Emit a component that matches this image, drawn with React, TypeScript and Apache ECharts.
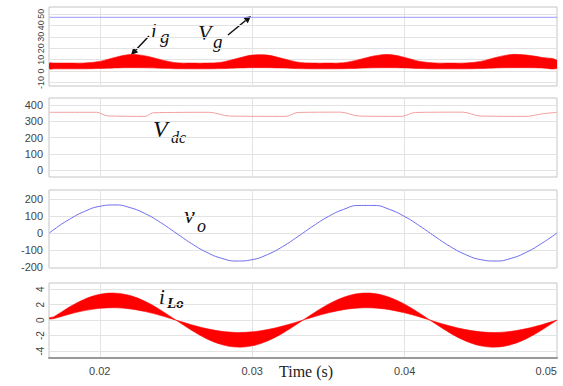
import { useEffect, useRef } from "react";
import * as echarts from "echarts";

// shared time base (s)
const time = [
  0.0167, 0.017, 0.018, 0.019, 0.02, 0.021, 0.022, 0.023, 0.024, 0.025, 0.026, 0.027,
  0.028, 0.029, 0.03, 0.031, 0.032, 0.033, 0.034, 0.035, 0.036, 0.037, 0.038, 0.039,
  0.04, 0.041, 0.042, 0.043, 0.044, 0.045, 0.046, 0.047, 0.048, 0.049, 0.05,
];

// grid current i_g band (upper / lower envelope, A)
const igUpper = [
  7, 7, 7, 7.1, 8.5, 12, 14.5, 13.3, 10, 7.3, 7, 7, 7.8, 11, 14, 14, 11, 7.8, 7, 7, 7.3,
  10, 13.3, 14.5, 12, 8.5, 7.1, 7, 7.1, 8.5, 12, 14.5, 14, 12, 9.5,
];
const igLower = [
  2, 2, 2, 2, 2.3, 2.8, 3, 2.9, 2.5, 2.1, 2, 2, 2.2, 2.7, 3, 3, 2.7, 2.2, 2, 2, 2.1, 2.5,
  2.9, 3, 2.8, 2.3, 2, 2, 2, 2.3, 2.8, 3, 3, 2.8, 2.4,
];
const vgLevel = 47;

// DC-link voltage (breakpoints)
const vdcTime = [
  0.0167, 0.0198, 0.0205, 0.023, 0.0235, 0.0272, 0.0285, 0.0322, 0.033, 0.0358, 0.037,
  0.0398, 0.0407, 0.0438, 0.045, 0.048, 0.049, 0.05,
];
const vdcValues = [355, 355, 333, 330, 352, 355, 332, 330, 354, 356, 332, 330, 354, 356, 332, 330, 345, 355];

// output voltage v_o
const voValues = [
  0, 21, 80, 127, 157, 165, 149, 113, 61, 0, -61, -113, -149, -165, -157, -127, -80, -21,
  41, 97, 139, 162, 162, 139, 97, 41, -21, -80, -127, -157, -165, -149, -113, -61, 0,
];

// inductor current i_Lo band (outer / inner envelope)
const iLoOuter = [
  0.3, 0.44, 1.69, 2.7, 3.33, 3.49, 3.17, 2.4, 1.29, 0, -1.29, -2.4, -3.17, -3.49, -3.33,
  -2.7, -1.69, -0.44, 0.87, 2.06, 2.95, 3.44, 3.44, 2.95, 2.06, 0.87, -0.44, -1.69, -2.7,
  -3.33, -3.49, -3.17, -2.4, -1.29, 0,
];
const iLoInner = [
  0.15, 0.2, 0.77, 1.23, 1.52, 1.6, 1.45, 1.1, 0.59, 0, -0.59, -1.1, -1.45, -1.6, -1.52,
  -1.23, -0.77, -0.2, 0.4, 0.94, 1.35, 1.57, 1.57, 1.35, 0.94, 0.4, -0.2, -0.77, -1.23,
  -1.52, -1.6, -1.45, -1.1, -0.59, 0,
];

const xTicks = [0.02, 0.03, 0.04, 0.05];
const igTicks = [-10, 0, 10, 20, 30, 40, 50];
const vdcTicks = [0, 100, 200, 300, 400];
const voTicks = [-200, -100, 0, 100, 200];
const iLoTicks = [-4, -2, 0, 2, 4];

const RED = "#ff0000";
const GRID_LINE = "#e3e3e3";
const LABEL_FONT = "'Liberation Sans Narrow', 'Liberation Sans', sans-serif";
const SERIF = "'Liberation Serif', serif";

function pairs(xs: number[], ys: number[]) {
  return xs.map((x, i) => [x, ys[i]]);
}

// filled band between two envelopes, drawn through the axis scales
function bandSeries(axisIndex: number, a: number[], b: number[]) {
  return {
    type: "custom",
    coordinateSystem: "cartesian2d",
    xAxisIndex: axisIndex,
    yAxisIndex: axisIndex,
    data: time.map((t, i) => [t, a[i], b[i]]),
    encode: { x: 0, y: [1, 2] },
    clip: true,
    silent: true,
    renderItem: (params: any, api: any) => {
      if (params.dataIndex !== 0) return null;
      const top = time.map((t, i) => api.coord([t, a[i]]));
      const bot = time.map((t, i) => api.coord([t, b[i]])).reverse();
      return {
        type: "polygon",
        shape: { points: top.concat(bot), smooth: 0.35 },
        style: { fill: RED, stroke: RED, lineWidth: 0.6 },
      };
    },
  };
}

export default function App() {
  const ref = useRef<HTMLDivElement>(null);

  useEffect(() => {
    if (!ref.current) return;
    const chart = echarts.init(ref.current, undefined, { renderer: "svg" });

    const gridBoxes = [
      { left: 49, top: 7, width: 508, height: 79 },
      { left: 49, top: 98, width: 508, height: 79 },
      { left: 49, top: 190, width: 508, height: 78 },
      { left: 49, top: 283, width: 508, height: 75 },
    ];
    const yRanges = [
      { min: -13, max: 56, ticks: igTicks, rotate: 90, size: 9 },
      { min: -43, max: 443, ticks: vdcTicks, rotate: 0, size: 11 },
      { min: -206, max: 253, ticks: voTicks, rotate: 0, size: 11 },
      { min: -4.9, max: 4.8, ticks: iLoTicks, rotate: 90, size: 10 },
    ];

    const option: any = {
      animation: false,
      backgroundColor: "#ffffff",
      grid: gridBoxes.map((g) => ({
        ...g,
        show: true,
        borderColor: "#c4c4c4",
        borderWidth: 1,
        backgroundColor: "#ffffff",
      })),
      xAxis: gridBoxes.map((_, i) => ({
        type: "value",
        gridIndex: i,
        min: 0.01667,
        max: 0.05,
        axisLine: { show: i === 3, onZero: false, lineStyle: { color: "#9a9a9a", width: 2 } },
        axisTick: { show: false, customValues: xTicks },
        axisLabel: {
          show: i === 3,
          customValues: xTicks,
          formatter: (v: number) => v.toFixed(2),
          fontSize: 11,
          color: "#444",
          fontFamily: LABEL_FONT,
          margin: 7,
          alignMaxLabel: "right",
        },
        splitLine: { show: true, lineStyle: { color: GRID_LINE, width: 1 } },
      })),
      yAxis: yRanges.map((r, i) => ({
        type: "value",
        gridIndex: i,
        min: r.min,
        max: r.max,
        axisLine: { show: false, onZero: false },
        axisTick: { show: false, customValues: r.ticks },
        axisLabel: {
          customValues: r.ticks,
          rotate: r.rotate,
          fontSize: r.size,
          color: "#444",
          fontFamily: LABEL_FONT,
          margin: r.rotate ? 4 : 6,
        },
        splitLine: { show: true, lineStyle: { color: GRID_LINE, width: 1 } },
      })),
      series: [
        bandSeries(0, igUpper, igLower),
        // V_g
        {
          type: "line",
          xAxisIndex: 0,
          yAxisIndex: 0,
          data: [
            [time[0], vgLevel],
            [time[time.length - 1], vgLevel],
          ],
          symbol: "none",
          lineStyle: { color: "#9c9cf4", width: 1 },
          silent: true,
        },
        // V_dc
        {
          type: "line",
          xAxisIndex: 1,
          yAxisIndex: 1,
          data: pairs(vdcTime, vdcValues),
          symbol: "none",
          smooth: 0.3,
          lineStyle: { color: "#f2a0a0", width: 1 },
          silent: true,
        },
        // v_o
        {
          type: "line",
          xAxisIndex: 2,
          yAxisIndex: 2,
          data: pairs(time, voValues),
          symbol: "none",
          smooth: true,
          lineStyle: { color: "#6b6bef", width: 1 },
          silent: true,
        },
        bandSeries(3, iLoOuter, iLoInner),
      ],
      graphic: [
        // i_g label + arrow
        { type: "text", x: 151, y: 31, style: { text: "i", font: `italic 20px ${SERIF}`, fill: "#111", textVerticalAlign: "middle" } },
        { type: "text", x: 160, y: 36, style: { text: "g", font: `italic 19px ${SERIF}`, fill: "#111", textVerticalAlign: "middle" } },
        { type: "line", shape: { x1: 149, y1: 36, x2: 135.8, y2: 49.9 }, style: { stroke: "#111", lineWidth: 1.5 } },
        { type: "polygon", shape: { points: [[131, 55], [138.3, 52.3], [133.2, 47.5]] }, style: { fill: "#111" } },
        // V_g label + arrow
        { type: "text", x: 198, y: 32.5, style: { text: "V", font: `italic 22px ${SERIF}`, fill: "#111", textVerticalAlign: "middle" } },
        { type: "text", x: 213, y: 41, style: { text: "g", font: `italic 19px ${SERIF}`, fill: "#111", textVerticalAlign: "middle" } },
        { type: "line", shape: { x1: 228, y1: 35, x2: 245.6, y2: 20.5 }, style: { stroke: "#111", lineWidth: 1.5 } },
        { type: "polygon", shape: { points: [[251, 16], [247.8, 23.2], [243.4, 17.8]] }, style: { fill: "#111" } },
        // V_dc
        { type: "text", x: 153, y: 129, style: { text: "V", font: `italic 24px ${SERIF}`, fill: "#111", textVerticalAlign: "middle" } },
        { type: "text", x: 171, y: 137.5, style: { text: "dc", font: `italic 16px ${SERIF}`, fill: "#111", textVerticalAlign: "middle" } },
        // v_o
        { type: "text", x: 184, y: 215, style: { text: "v", font: `italic 24px ${SERIF}`, fill: "#111", textVerticalAlign: "middle" } },
        { type: "text", x: 197, y: 226, style: { text: "o", font: `italic 18px ${SERIF}`, fill: "#111", textVerticalAlign: "middle" } },
        // i_Lo
        { type: "text", x: 159, y: 297, style: { text: "i", font: `italic 21px ${SERIF}`, fill: "#111", textVerticalAlign: "middle" } },
        { type: "text", x: 167, y: 303, style: { text: "Lo", font: `italic bold 15px ${SERIF}`, fill: "#111", textVerticalAlign: "middle" } },
        // axis title
        { type: "text", x: 279, y: 371, style: { text: "Time (s)", font: `16px ${SERIF}`, fill: "#222", textVerticalAlign: "middle" } },
      ],
    };

    chart.setOption(option);
    return () => chart.dispose();
  }, []);

  return (
    <div
      ref={ref}
      style={{ position: "fixed", left: 0, top: 0, width: 563, height: 386, background: "#fff" }}
    />
  );
}
